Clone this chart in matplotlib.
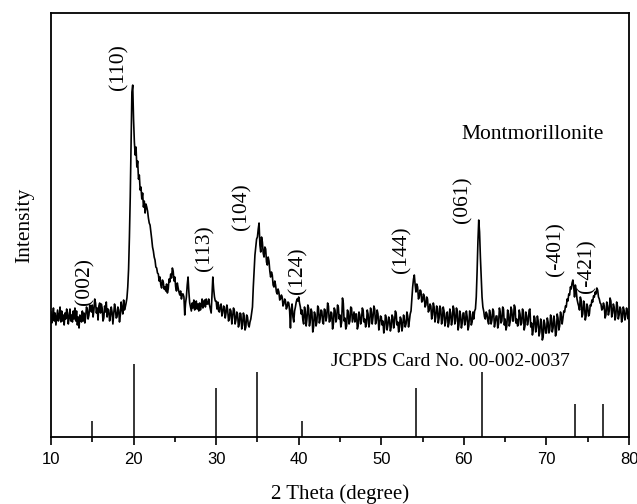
import numpy as np
import matplotlib
matplotlib.use("Agg")
import matplotlib.pyplot as plt

# 2-theta sampling grid (degrees), 0.1 degree step
two_theta = np.round(np.arange(10.0, 80.0001, 0.1), 2)

intensity = [
    125, 114, 120, 129, 116, 124, 112, 120, 127, 116,   # 10
    120, 130, 115, 126, 116, 122, 112, 124, 118, 128,   # 11
    124, 113, 120, 128, 116, 122, 115, 126, 118, 129,   # 12
    116, 126, 112, 120, 109, 122, 118, 115, 126, 116,   # 13
    124, 114, 120, 130, 128, 118, 122, 132, 130, 125,   # 14
    132, 120, 127, 138, 134, 124, 129, 117, 131, 134,   # 15
    124, 133, 129, 116, 119, 131, 125, 135, 120, 128,   # 16
    127, 116, 121, 130, 125, 113, 123, 133, 128, 119,   # 17
    120, 130, 127, 115, 122, 135, 128, 123, 137, 127,   # 18
    130, 134, 139, 150, 168, 200, 240, 290, 345, 352,   # 19
    318, 295, 282, 290, 270, 276, 258, 262, 247, 250,   # 20
    238, 244, 230, 236, 224, 233, 230, 226, 219, 214,   # 21
    212, 205, 198, 190, 186, 180, 177, 170, 169, 164,   # 22
    163, 156, 160, 152, 149, 157, 155, 148, 150, 146,   # 23
    153, 144, 148, 158, 155, 163, 159, 169, 166, 156,   # 24
    160, 150, 146, 154, 149, 145, 142, 146, 138, 143,   # 25
    143, 140, 122, 134, 140, 152, 160, 145, 134, 130,   # 26
    126, 134, 129, 137, 127, 131, 136, 128, 133, 126,   # 27
    134, 127, 131, 138, 129, 135, 137, 130, 138, 133,   # 28
    133, 138, 132, 128, 124, 142, 160, 148, 140, 136,   # 29
    136, 128, 135, 126, 125, 132, 133, 121, 124, 131,   # 30
    130, 119, 124, 132, 127, 116, 118, 128, 126, 113,   # 31
    120, 129, 127, 113, 117, 125, 123, 110, 113, 124,   # 32
    123, 108, 112, 124, 121, 107, 110, 122, 120, 112,   # 33
    110, 115, 118, 124, 130, 150, 165, 182, 190, 198,   # 34
    200, 208, 214, 192, 185, 200, 195, 184, 180, 190,   # 35
    188, 175, 172, 180, 176, 166, 160, 165, 162, 152,   # 36
    150, 156, 152, 145, 143, 148, 145, 137, 138, 142,   # 37
    140, 131, 133, 138, 136, 128, 130, 135, 134, 126,   # 38
    109, 128, 133, 120, 115, 126, 130, 135, 138, 136,   # 39
    140, 134, 130, 123, 127, 117, 113, 130, 126, 111,   # 40
    118, 132, 129, 111, 116, 128, 125, 105, 110, 125,   # 41
    122, 111, 115, 131, 129, 114, 118, 127, 126, 115,   # 42
    113, 128, 127, 116, 120, 134, 131, 115, 116, 125,   # 43
    124, 108, 113, 129, 127, 115, 118, 132, 130, 118,   # 44
    122, 110, 115, 139, 134, 116, 119, 108, 111, 127,   # 45
    125, 113, 116, 130, 129, 115, 120, 125, 115, 123,   # 46
    123, 108, 111, 125, 122, 113, 116, 129, 127, 115,   # 47
    118, 110, 113, 127, 123, 110, 115, 129, 125, 113,   # 48
    120, 131, 128, 113, 116, 127, 123, 107, 113, 121,   # 49
    120, 112, 116, 104, 109, 122, 119, 107, 112, 120,   # 50
    117, 106, 110, 122, 120, 109, 114, 126, 124, 112,   # 51
    115, 105, 110, 120, 118, 106, 111, 122, 117, 110,   # 52
    113, 125, 121, 110, 116, 123, 126, 138, 150, 158,   # 53
    162, 152, 145, 153, 150, 138, 140, 147, 146, 135,   # 54
    136, 143, 141, 130, 132, 140, 138, 125, 127, 133,   # 55
    131, 118, 122, 134, 130, 115, 120, 131, 129, 114,   # 56
    119, 131, 128, 113, 117, 130, 126, 111, 115, 124,   # 57
    125, 110, 114, 128, 124, 112, 117, 131, 128, 113,   # 58
    116, 129, 126, 107, 112, 126, 122, 109, 114, 124,   # 59
    124, 112, 116, 126, 120, 107, 111, 126, 123, 112,   # 60
    115, 125, 118, 126, 128, 140, 165, 195, 217, 205,   # 61
    180, 160, 140, 130, 126, 120, 118, 125, 123, 116,   # 62
    113, 127, 123, 113, 117, 128, 126, 110, 115, 121,   # 63
    121, 109, 113, 129, 125, 114, 116, 130, 128, 112,   # 64
    118, 107, 111, 127, 123, 111, 115, 130, 127, 116,   # 65
    116, 132, 130, 114, 118, 111, 112, 127, 123, 112,   # 66
    114, 128, 125, 107, 111, 125, 121, 112, 116, 127,   # 67
    128, 110, 114, 102, 107, 121, 119, 105, 110, 121,   # 68
    116, 101, 105, 118, 115, 97, 100, 117, 113, 104,    # 69
    104, 119, 115, 104, 107, 122, 119, 105, 109, 121,   # 70
    115, 101, 105, 123, 119, 107, 111, 125, 121, 113,   # 71
    119, 126, 125, 131, 130, 138, 136, 143, 142, 150,   # 72
    148, 154, 157, 150, 140, 152, 147, 138, 134, 131,   # 73
    127, 140, 137, 120, 123, 136, 133, 117, 121, 133,   # 74
    130, 121, 123, 132, 131, 137, 135, 141, 140, 145,   # 75
    143, 149, 147, 140, 138, 134, 133, 127, 128, 134,   # 76
    131, 119, 122, 135, 131, 122, 126, 139, 136, 120,   # 77
    124, 133, 130, 117, 121, 135, 131, 118, 122, 130,   # 78
    128, 115, 119, 130, 127, 117, 121, 129, 125, 118,   # 79
    125,                                                # 80
]
n = min(len(two_theta), len(intensity))

# JCPDS 00-002-0037 reference lines
ref_pos = [15.0, 20.0, 30.0, 35.0, 40.4, 54.2, 62.2, 73.4, 76.8]
ref_height = [16, 73, 49, 65, 16, 49, 65, 33, 33]

# peak labels
peak_labels = ["(002)", "(110)", "(113)", "(104)", "(124)", "(144)", "(061)", "(-401)", "(-421)"]
peak_label_x = [14.12, 18.24, 28.65, 33.13, 39.91, 52.51, 59.90, 71.16, 74.91]
peak_label_y = [156, 370, 189, 230, 166, 187, 237, 188, 171]

serif = "Liberation Serif"
sans = "Liberation Sans"

fig = plt.figure(figsize=(6.37, 5.04), dpi=100)
ax = fig.add_axes([0.080, 0.133, 0.9075, 0.841])

ax.plot(two_theta[:n], intensity[:n], color="black", lw=1.2)
ax.vlines(ref_pos, 0, ref_height, color="black", lw=1.1)

for lab, x, y in zip(peak_labels, peak_label_x, peak_label_y):
    ax.text(x, y, lab, rotation=90, ha="center", va="center",
            fontsize=15.5, family=serif)

ax.text(68.37, 303, "Montmorillonite", ha="center", va="center",
        fontsize=15.5, family=serif)
ax.text(58.32, 75, "JCPDS Card No. 00-002-0037", ha="center", va="center",
        fontsize=14, family=serif)

ax.set_xlim(10, 80)
ax.set_ylim(0, 424)
ax.set_xticks([10, 20, 30, 40, 50, 60, 70, 80])
ax.set_xticks([15, 25, 35, 45, 55, 65, 75], minor=True)
ax.set_yticks([])
ax.tick_params(axis="x", which="major", direction="out", length=6, width=1.2,
               labelsize=12, pad=5)
ax.tick_params(axis="x", which="minor", direction="out", length=3.5, width=1.2)
for lab in ax.get_xticklabels():
    lab.set_family(sans)
for s in ax.spines.values():
    s.set_linewidth(1.3)

ax.set_xlabel("2 Theta (degree)", fontsize=15, family=serif, labelpad=12)
ax.set_ylabel("Intensity", fontsize=15.5, family=serif, labelpad=12)

fig.savefig("out.png", dpi=100)
